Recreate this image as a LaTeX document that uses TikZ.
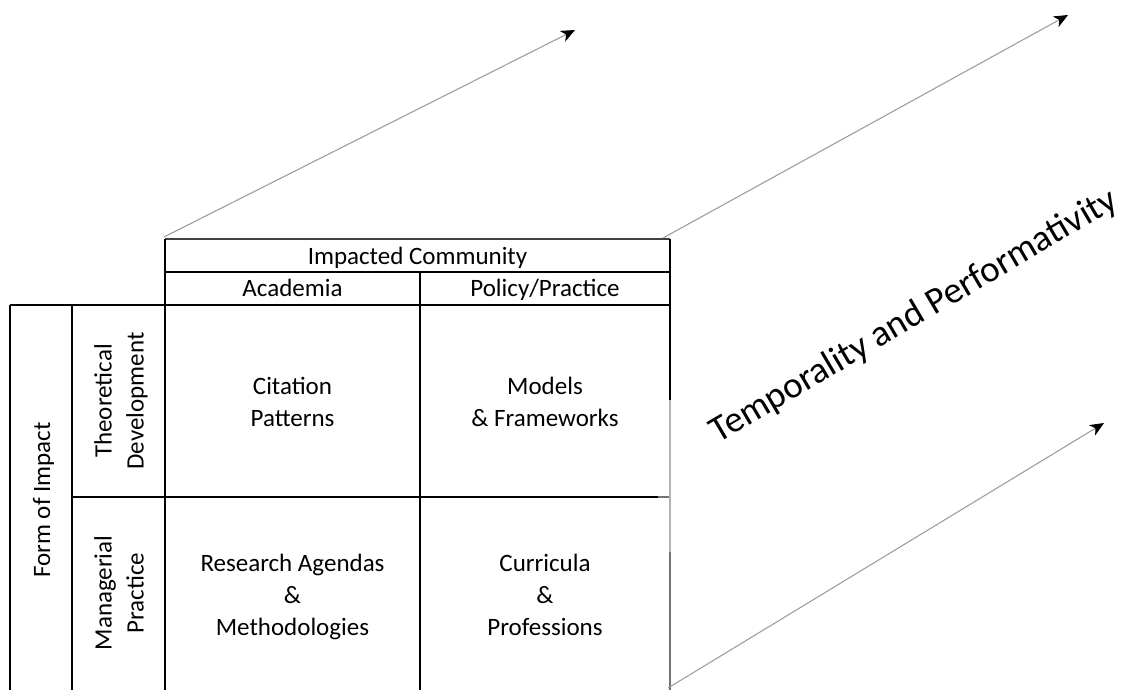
\documentclass[tikz,border=0pt]{standalone}
\usepackage{fontspec}
\setmainfont{Carlito}
\usetikzlibrary{arrows.meta}
\newcommand{\cs}{\rule[-9.6pt]{0pt}{32pt}}
\begin{document}
\begin{tikzpicture}[x=1pt,y=-1pt,
  gridline/.style={line width=2pt, black},
  thinline/.style={line width=1.2pt, black!75},
  fadeline/.style={line width=2pt, black!30},
  midline/.style={line width=2pt, black!55},
  txt/.style={font=\fontsize{25}{32}\selectfont, align=center, inner sep=0pt},
  bigtxt/.style={font=\fontsize{37}{42}\selectfont, inner sep=0pt},
  timearrow/.style={draw=black!38, line width=1.1pt,
    -{Stealth[length=14pt,width=12pt,inset=4pt,color=black]}}]
\useasboundingbox (0,0) rectangle (1127,690);

% table lines
\draw[thinline] (165,239) -- (670,239);
\draw[gridline] (165,239) -- (165,690);
\draw[gridline] (165,272) -- (670,272);
\draw[gridline] (10,305) -- (670,305);
\draw[gridline] (10,305) -- (10,690);
\draw[gridline] (72,305) -- (72,690);
\draw[gridline] (420,272) -- (420,690);
\draw[gridline] (72,497) -- (658,497);
\draw[midline] (658,497) -- (670,497);
\draw[gridline] (670,239) -- (670,400);
\draw[fadeline] (670,400) -- (670,552);
\draw[midline] (670,552) -- (670,690);

% texts
\node[txt, anchor=base] (impacted) at (417.5,264) {Impacted Community};
\node[txt, anchor=base] (acad) at (292.5,296.5) {Academia};
\node[txt, anchor=base] (policy) at (545,296.5) {Policy/Practice};
\node[txt] (citation) at (292.5,404.5) {\cs Citation\\Patterns\cs};
\node[txt] (models) at (545,404.5) {\cs Models\\\& Frameworks\cs};
\node[txt] (research) at (292.5,596.6) {\cs Research Agendas\\\&\\Methodologies\cs};
\node[txt] (curricula) at (545,596.6) {\cs Curricula\\\&\\Professions\cs};
\node[txt, rotate=90] (form) at (43.6,500) {\cs Form of Impact\cs};
\node[txt, rotate=90] (theory) at (121.3,401) {\cs Theoretical\\Development\cs};
\node[txt, rotate=90] (managerial) at (121.3,593) {\cs Managerial\\Practice\cs};
\node[bigtxt, rotate=30.5, anchor=base] (temporality) at (919,325) {Temporality and Performativity};

% arrows
\coordinate (a1s) at (164,237);
\coordinate (a1e) at (575,30);
\coordinate (a2s) at (663,238);
\coordinate (a2e) at (1068,15);
\coordinate (a3s) at (668,688);
\coordinate (a3e) at (1104,423);
\draw[timearrow] (a1s) -- (a1e);
\draw[timearrow] (a2s) -- (a2e);
\draw[timearrow] (a3s) -- (a3e);
\end{tikzpicture}
\end{document}
